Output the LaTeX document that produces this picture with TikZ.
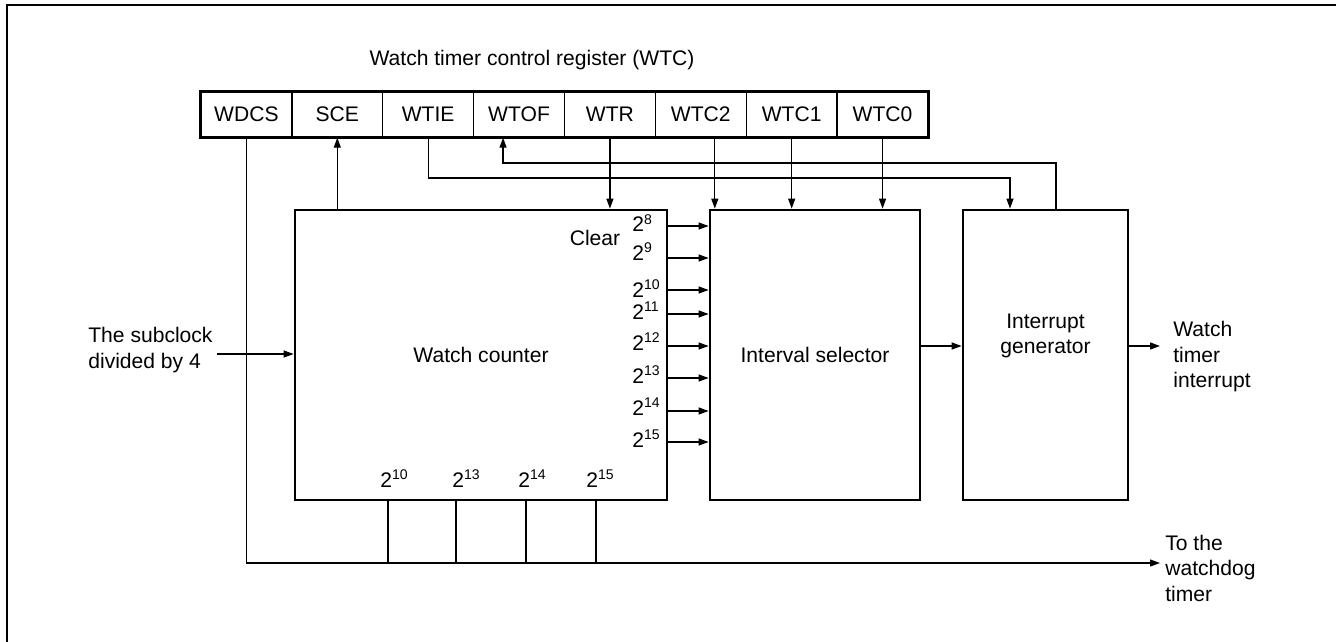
\documentclass[tikz,border=0pt]{standalone}
\usepackage{fontspec}
\setmainfont{Liberation Sans}
\usetikzlibrary{arrows.meta}
\tikzset{
    basebox/.style={rectangle, draw, line width=1.6pt,
        inner sep=0pt,
        minimum height=5.8cm},
    regcell/.style={rectangle, draw, line width=0.8pt,
        inner sep=0pt,
        minimum width=1.818cm,
        minimum height=0.9cm},
    wire/.style={line width=0.7pt},
    arr/.style={wire, -{Triangle[length=2mm, width=1.4mm]}},
    txt/.style={inner sep=0pt, align=left}
}

\begin{document}
\begin{tikzpicture}[x=0.02cm, y=-0.02cm, every node/.style={font=\fontsize{12}{14.5}\selectfont}]
\useasboundingbox (0,0) rectangle (1336,642);

% Frame
\draw[line width=1.7pt] (7,642) -- (7,5) -- (1336,5);

% Register
\node[txt] (regtitle) at (532,60) {Watch timer control register (WTC)};
\foreach \name [count=\i] in {WDCS,SCE,WTIE,WTOF,WTR,WTC2,WTC1,WTC0}
    \node[regcell] (\name) at ({201+90.875*(\i-0.5)}, 114.5) {\name};
\draw[line width=1.6pt] (WDCS.north west) rectangle (WTC0.south east);

% Blocks
\node[basebox, minimum width=7.44cm] (counter) at (481,355) {Watch counter};
\node[basebox, minimum width=4.2cm] (sel) at (815,355) {Interval selector};
\node[basebox, minimum width=3.3cm] (gen) at (1045.5,355) {};
\node[txt, align=center] (genlbl) at ([yshift=0.38cm]gen.center) {Interrupt\\generator};

% Counter outputs
\node[txt] (clr) at (595,238) {Clear};
\foreach \y/\e/\b in {226/8/232, 258/9/260, 290/10/297, 314/11/319,
                      346/12/350, 378/13/383, 411/14/415, 442/15/447} {
    \node[txt, anchor=base west] (o\e) at (632,\b) {2\textsuperscript{\e}};
    \coordinate (p\e) at (667,\y);
    \draw[arr] (p\e) -- (p\e -| sel.west);
}

% Taps to the watchdog timer
\foreach \x/\e/\lx in {388/10/380, 456/13/452, 526/14/518, 596/15/586} {
    \node[txt, anchor=base west] (b\e) at (\lx,487) {2\textsuperscript{\e}};
    \coordinate (t\e) at (\x,563);
    \draw[wire] (t\e |- counter.south) -- (t\e);
}
\coordinate (wdog) at (1160,563);
\draw[arr] (WDCS.south) |- (wdog);
\node[txt, anchor=west] (wdtxt) at (1165,568) {To the\\watchdog\\timer};

% Input
\coordinate (clkin) at (217,354);
\draw[arr] (clkin) -- (clkin -| counter.west);
\node[txt, anchor=west] (clktxt) at (88,350) {The subclock\\divided by 4};

% Interrupt path
\coordinate (sg) at (920,346);
\draw[arr] (sg) -- (sg -| gen.west);
\coordinate (irq) at (1160,346);
\draw[arr] (irq -| gen.east) -- (irq);
\node[txt, anchor=west] (irqtxt) at (1173,357) {Watch\\timer\\interrupt};

% Register bits
\draw[arr] (SCE.south |- counter.north) -- (SCE.south);
\draw[arr] (WTR.south) -- (WTR.south |- counter.north);
\draw[arr] ([xshift=0.28cm]WTC2.south) -- ([xshift=0.28cm]WTC2.south |- sel.north);
\draw[arr] (WTC1.south) -- (WTC1.south |- sel.north);
\draw[arr] (WTC0.south) -- (WTC0.south |- sel.north);
\coordinate (ieturn) at (1010,178);
\draw[arr] (WTIE.south) |- (ieturn) -- (ieturn |- gen.north);
\coordinate (ofturn) at (1056,163);
\draw[arr] (ofturn |- gen.north) -- (ofturn) -| ([xshift=-0.32cm]WTOF.south);

\end{tikzpicture}
\end{document}
